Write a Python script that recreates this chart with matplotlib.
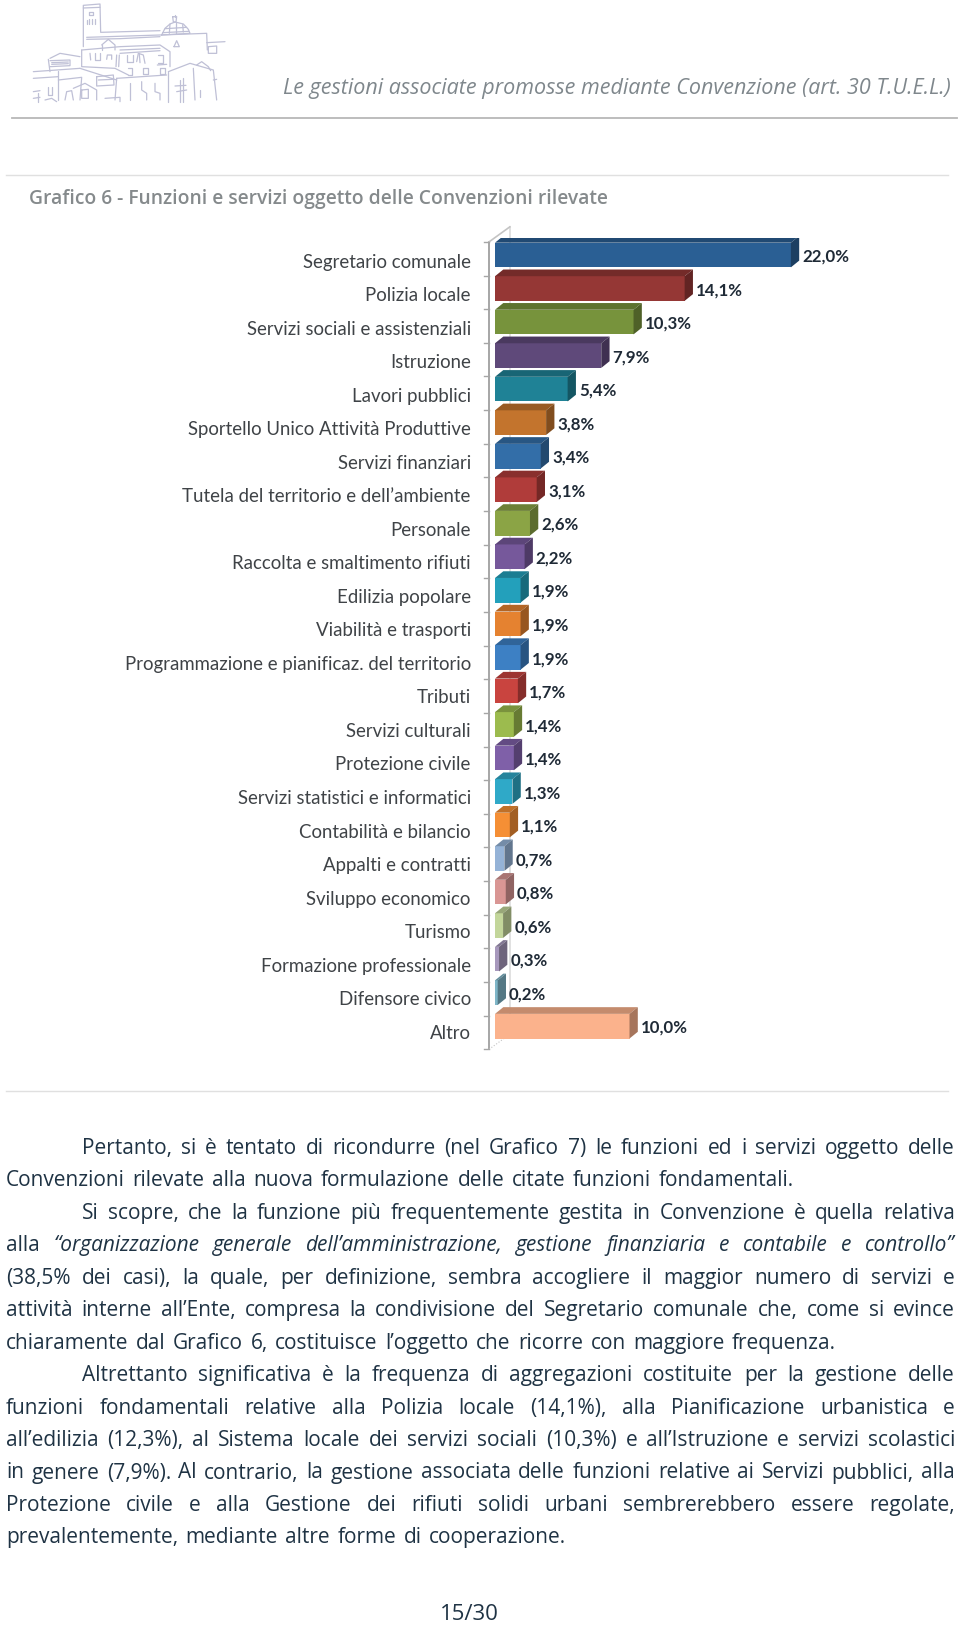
# IMPORTS
import matplotlib
matplotlib.use('Agg')
import matplotlib.pyplot as plt
from matplotlib.colors import to_rgb
from matplotlib.patches import Polygon

# DATA
categories = [
    'Segretario comunale', 'Polizia locale', 'Servizi sociali e assistenziali',
    'Istruzione', 'Lavori pubblici', 'Sportello Unico Attività Produttive',
    'Servizi finanziari', 'Tutela del territorio e dell’ambiente', 'Personale',
    'Raccolta e smaltimento rifiuti', 'Edilizia popolare', 'Viabilità e trasporti',
    'Programmazione e pianificaz. del territorio', 'Tributi', 'Servizi culturali',
    'Protezione civile', 'Servizi statistici e informatici', 'Contabilità e bilancio',
    'Appalti e contratti', 'Sviluppo economico', 'Turismo',
    'Formazione professionale', 'Difensore civico', 'Altro',
]
values = [22.0, 14.1, 10.3, 7.9, 5.4, 3.8, 3.4, 3.1, 2.6, 2.2, 1.9, 1.9,
          1.9, 1.7, 1.4, 1.4, 1.3, 1.1, 0.7, 0.8, 0.6, 0.3, 0.2, 10.0]
colors = ['#2a5f94', '#953735', '#77933c', '#5f497a', '#1f8296', '#c3742d',
          '#336ea8', '#b03c3a', '#8ba445', '#76589b', '#23a0bb', '#e58230',
          '#3d80c4', '#c9443f', '#9cbb4e', '#7f60a8', '#2fa9c8', '#f58f35',
          '#95b3d7', '#d99694', '#c3d69b', '#a798bc', '#7fb6c8', '#fbb28c']

header = 'Le gestioni associate promosse mediante Convenzione (art. 30 T.U.E.L.)'
title = 'Grafico 6 - Funzioni e servizi oggetto delle Convenzioni rilevate'
page_no = '15/30'

# words starting with * are italic
body = [
    'Pertanto, si è tentato di ricondurre (nel Grafico 7) le funzioni ed i servizi oggetto delle',
    'Convenzioni rilevate alla nuova formulazione delle citate funzioni fondamentali.',
    'Si scopre, che la funzione più frequentemente gestita in Convenzione è quella relativa',
    'alla *“organizzazione *generale *dell’amministrazione, *gestione *finanziaria *e *contabile *e *controllo”',
    '(38,5% dei casi), la quale, per definizione, sembra accogliere il maggior numero di servizi e',
    'attività interne all’Ente, compresa la condivisione del Segretario comunale che, come si evince',
    'chiaramente dal Grafico 6, costituisce l’oggetto che ricorre con maggiore frequenza.',
    'Altrettanto significativa è la frequenza di aggregazioni costituite per la gestione delle',
    'funzioni fondamentali relative alla Polizia locale (14,1%), alla Pianificazione urbanistica e',
    'all’edilizia (12,3%), al Sistema locale dei servizi sociali (10,3%) e all’Istruzione e servizi scolastici',
    'in genere (7,9%). Al contrario, la gestione associata delle funzioni relative ai Servizi pubblici, alla',
    'Protezione civile e alla Gestione dei rifiuti solidi urbani sembrerebbero essere regolate,',
    'prevalentemente, mediante altre forme di cooperazione.',
]
line_starts = [82, 6, 82, 6, 6, 6, 6, 82, 6, 6, 6, 6, 6]
line_ends = [955, 794, 955, 955, 955, 955, 836, 955, 955, 955, 955, 955, 566]

# logo strokes, in zoomed crop coordinates
logo = [
    [(190, 140), (190, 16), (240, 12), (242, 97), (420, 92)],
    [(190, 24), (240, 22)], [(200, 60), (200, 72)], [(208, 58), (208, 72)], [(216, 58), (216, 72)],
    [(226, 58), (226, 72)], [(208, 36), (218, 36), (218, 44), (208, 44), (208, 36)],
    [(200, 112), (420, 105), (560, 100), (562, 150)],
    [(200, 118), (300, 116), (420, 110)],
    [(425, 105), (435, 85), (450, 72), (465, 66), (490, 72), (505, 88), (510, 100), (425, 105)],
    [(428, 98), (506, 94)], [(436, 86), (500, 82)], [(450, 72), (448, 100)], [(468, 68), (468, 98)], [(488, 74), (490, 96)],
    [(458, 50), (470, 50), (468, 66), (460, 66), (458, 50)], [(464, 44), (464, 50)],
    [(560, 128), (615, 125)], [(565, 140), (590, 138), (590, 160), (565, 160), (565, 140)],
    [(185, 150), (300, 140), (420, 135), (450, 155), (450, 200)],
    [(300, 150), (420, 145)], [(185, 150), (185, 200), (285, 205), (325, 225)],
    [(90, 175), (120, 160), (180, 170)], [(85, 178), (90, 215)],
    [(90, 182), (150, 180), (150, 197), (90, 200)], [(95, 188), (145, 186)], [(95, 193), (145, 191)],
    [(40, 215), (180, 205)], [(40, 235), (115, 230)], [(180, 205), (290, 240)],
    [(115, 212), (115, 300)], [(115, 240), (185, 232), (180, 300)],
    [(135, 300), (140, 275), (155, 272), (160, 300)],
    [(160, 265), (195, 250), (230, 270), (230, 300)],
    [(445, 215), (510, 190), (580, 210), (590, 300)], [(445, 215), (445, 305)],
    [(520, 205), (525, 300)], [(530, 195), (545, 185), (565, 200), (572, 212)], [(290, 235), (440, 225)],
    [(290, 235), (285, 300)], [(330, 250), (330, 300)],
    [(230, 230), (280, 225), (282, 255), (230, 258), (230, 230)], [(235, 240), (278, 238)],
    [(225, 160), (225, 180), (240, 180), (240, 160)], [(210, 160), (212, 180)],
    [(260, 178), (262, 165), (275, 165), (275, 178)], [(290, 165), (288, 200)], [(298, 165), (296, 200)],
    [(320, 165), (320, 185), (340, 185), (340, 165)], [(300, 160), (420, 152)],
    [(350, 185), (355, 160), (370, 165), (375, 190)], [(358, 162), (360, 188)],
    [(415, 165), (430, 165), (430, 190), (415, 190)], [(412, 195), (440, 193)],
    [(370, 205), (385, 205), (385, 222), (370, 222), (370, 205)],
    [(420, 205), (435, 205), (435, 222), (420, 222), (420, 205)],
    [(325, 205), (335, 205), (335, 225), (325, 225)],
    [(245, 135), (265, 118), (285, 135), (285, 150)], [(245, 135), (245, 150)],
    [(462, 140), (470, 122), (478, 140), (462, 140)],
    [(365, 245), (365, 270), (380, 280), (380, 300)],
    [(405, 250), (405, 275), (420, 280), (420, 300)],
    [(85, 260), (85, 285), (95, 285), (95, 260)],
    [(185, 270), (205, 268), (205, 295), (185, 295), (185, 270)],
    [(40, 275), (60, 272)], [(40, 295), (60, 292)], [(55, 280), (55, 305)], [(75, 300), (95, 295), (110, 305)],
    [(255, 295), (300, 292), (300, 305)],
    [(465, 258), (498, 256)], [(470, 275), (500, 270)], [(480, 240), (480, 305)], [(490, 235), (490, 305)],
    [(540, 270), (540, 290)], [(580, 240), (590, 238)],
]

# PAGE
fig = plt.figure(figsize=(9.6, 16.25), dpi=100, facecolor='white')
page = fig.add_axes([0, 0, 1, 1])
page.set_xlim(0, 960)
page.set_ylim(1625, 0)
page.axis('off')
renderer = fig.canvas.get_renderer()


def word_width(t):
    return t.get_window_extent(renderer).width


def fit_text(s, x0, x1, y, size, **kw):
    t = page.text(x0, y, s, fontsize=size, va='baseline', ha='left', **kw)
    t.set_fontsize(size * (x1 - x0) / word_width(t))
    return t


for stroke in logo:
    page.plot([20 + p[0] / 3 for p in stroke], [p[1] / 3 for p in stroke],
              color='#bfc0d6', lw=0.9, solid_capstyle='round')

fit_text(header, 283, 955, 94, 14, family='Open Sans', style='italic', color='#7f878c')
page.plot([12, 957], [117.7, 117.7], color='#b8b8b8', lw=1.3)
page.plot([6, 948], [174.7, 174.7], color='#e0e0e0', lw=1.0)
fit_text(title, 29, 611, 204, 14, family='Open Sans', weight='semibold', color='#858a8c')
page.plot([6, 948], [1090.6, 1090.6], color='#e0e0e0', lw=1.0)

# BODY TEXT, JUSTIFIED LINE BY LINE
for i, line in enumerate(body):
    y = 1154 + 32.45 * i
    words = []
    for w in line.split(' '):
        it = w.startswith('*')
        t = page.text(0, y, w.lstrip('*'), fontsize=15.0, family='Open Sans', va='baseline',
                      style='italic' if it else 'normal', color='#1f3344')
        words.append(t)
    widths = [word_width(t) for t in words]
    gap = (line_ends[i] - line_starts[i] - sum(widths)) / (len(words) - 1)
    x = line_starts[i]
    for t, w in zip(words, widths):
        t.set_x(x)
        x += w + gap

page.text(469, 1620, page_no, fontsize=16, family='Open Sans', ha='center',
          va='baseline', color='#1f3344')

# CHART
px_per_unit = 13.45
row_h = 33.53
x_left = 495.0
y_top = 255 - row_h / 2
ax = fig.add_axes([x_left / 960, 1 - (y_top + 24 * row_h) / 1625,
                   30 * px_per_unit / 960, 24 * row_h / 1625])
ax.patch.set_alpha(0)
ax.set_xlim(0, 30)
ax.set_ylim(23.5, -0.5)
ax.axis('off')

bar_h = 0.735
dx = 8.3 / px_per_unit
dy = 6.7 / row_h
wall = -6.0 / px_per_unit
wall_top = -0.39
wall_bottom = 23.69

# walls and ticks behind the bars
ax.plot([wall, wall], [wall_top, wall_bottom], color='#a6a6a6', lw=1.4, clip_on=False)
ax.plot([wall + 1.55, wall + 1.55], [wall_top - 0.45, wall_bottom - 0.45], color='#dcdcdc',
        lw=1.2, clip_on=False)
ax.plot([wall, wall + 1.55], [wall_top, wall_top - 0.45], color='#c4c4c4', lw=1.2, clip_on=False)
ax.plot([wall, wall + 1.55], [wall_bottom, wall_bottom - 0.45], color='#c4c4c4', lw=0.8,
        ls=':', clip_on=False)
for k in range(25):
    tick_y = wall_top + k * (wall_bottom - wall_top) / 24
    ax.plot([wall - 0.4, wall], [tick_y, tick_y], color='#a6a6a6', lw=1.0, clip_on=False)

for i, (v, c) in enumerate(zip(values, colors)):
    rgb = to_rgb(c)
    top_c = tuple(ch * 0.78 for ch in rgb)
    side_c = tuple(ch * 0.66 for ch in rgb)
    y0, y1 = i - bar_h / 2, i + bar_h / 2
    ax.barh(i, v, height=bar_h, color=c, edgecolor='none', zorder=3)
    ax.add_patch(Polygon([(0, y0), (dx, y0 - dy), (v + dx, y0 - dy), (v, y0)],
                         facecolor=top_c, edgecolor='none', zorder=3))
    ax.add_patch(Polygon([(v, y0), (v + dx, y0 - dy), (v + dx, y1 - dy), (v, y1)],
                         facecolor=side_c, edgecolor='none', zorder=3))
    ax.text(v + dx + 0.22, i + 0.05, f'{v:.1f}%'.replace('.', ','), fontsize=12.2,
            family='Lato', weight='bold', color='#1f2a36', va='center', ha='left')
    ax.text(wall - 1.35, i + 0.21, categories[i], fontsize=13.45, family='Lato',
            color='#3f4347', va='center', ha='right')

fig.savefig('out.png', dpi=100)
